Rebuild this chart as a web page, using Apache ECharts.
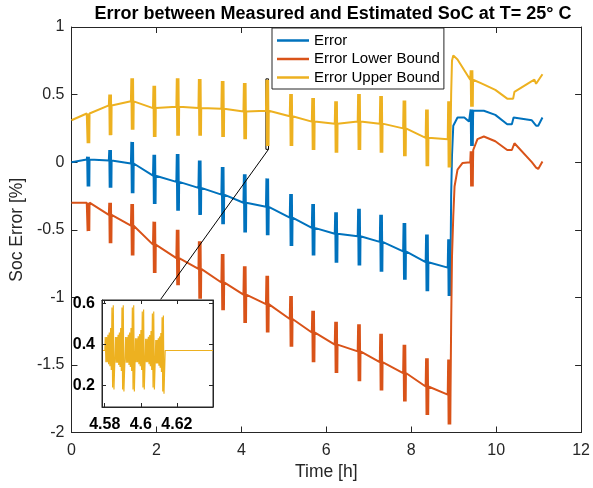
<!DOCTYPE html>
<html>
<head>
<meta charset="utf-8">
<script src="https://cdn.jsdelivr.net/npm/echarts@6/dist/echarts.min.js"></script>
<style>
  html, body { margin: 0; padding: 0; background: #fff; }
  #chart { width: 593px; height: 488px; }
</style>
</head>
<body>
<div id="chart"></div>
<script>
// times (h) of the current-pulse bursts, same for all three traces
const spikeTime = [0.36, 0.88, 1.40, 1.92, 2.47, 2.99, 3.53, 4.05, 4.58, 5.14, 5.66, 6.20, 6.74, 7.26, 7.81, 8.34, 8.86, 9.39];

// Error
const errBase = [0.02, 0.013, -0.01, -0.10, -0.146, -0.19, -0.24, -0.30, -0.33, -0.41, -0.486, -0.53, -0.548, -0.59, -0.66, -0.74, -0.78, 0.31];
const errTop = [0.04, 0.09, 0.15, 0.055, 0.06, 0.013, -0.035, -0.09, -0.12, -0.235, -0.31, -0.37, -0.345, -0.39, -0.45, -0.535, -0.57, 0.39];
const errBottom = [-0.18, -0.19, -0.23, -0.31, -0.36, -0.39, -0.46, -0.52, -0.54, -0.62, -0.69, -0.745, -0.765, -0.81, -0.87, -0.955, -0.99, 0.12];
const errTrack = [[0, 0.0], [8.92, -0.70], [8.94, -0.25], [8.96, 0.05], [8.99, 0.27], [9.09, 0.33], [9.25, 0.33], [9.36, 0.30],
  [9.46, 0.38], [9.71, 0.38], [9.98, 0.35], [10.26, 0.28], [10.37, 0.28], [10.41, 0.33], [10.84, 0.31], [10.94, 0.27], [10.99, 0.27], [11.09, 0.33]];

// Error Lower Bound
const lowBase = [-0.30, -0.39, -0.47, -0.61, -0.71, -0.79, -0.89, -0.98, -1.05, -1.16, -1.26, -1.35, -1.40, -1.48, -1.56, -1.66, -1.72, 0.0];
const lowTop = [-0.30, -0.30, -0.31, -0.44, -0.50, -0.585, -0.68, -0.77, -0.84, -0.99, -1.10, -1.18, -1.20, -1.27, -1.35, -1.45, -1.46, 0.08];
const lowBottom = [-0.51, -0.60, -0.69, -0.82, -0.91, -1.01, -1.095, -1.19, -1.26, -1.365, -1.48, -1.56, -1.62, -1.69, -1.77, -1.87, -1.94, -0.18];
const lowTrack = [[0, -0.30], [8.92, -1.85], [8.94, -1.2], [8.96, -0.7], [8.99, -0.4], [9.02, -0.18], [9.09, -0.055], [9.21, -0.006],
  [9.46, 0.09], [9.56, 0.17], [9.71, 0.19], [9.98, 0.155], [10.26, 0.09], [10.37, 0.09], [10.43, 0.14], [10.84, 0.0], [10.94, -0.04], [10.99, -0.05], [11.09, 0.005]];

// Error Upper Bound
const upBase = [0.36, 0.42, 0.45, 0.40, 0.41, 0.40, 0.395, 0.375, 0.38, 0.34, 0.30, 0.285, 0.30, 0.285, 0.25, 0.18, 0.17, 0.61];
const upTop = [0.36, 0.50, 0.62, 0.565, 0.62, 0.615, 0.60, 0.585, 0.61, 0.505, 0.475, 0.45, 0.505, 0.49, 0.456, 0.39, 0.45, 0.68];
const upBottom = [0.14, 0.20, 0.24, 0.186, 0.196, 0.196, 0.186, 0.17, 0.12, 0.12, 0.09, 0.07, 0.09, 0.07, 0.043, -0.03, -0.04, 0.41];
const upTrack = [[0, 0.31], [8.92, 0.17], [8.94, 0.5], [8.96, 0.75], [8.99, 0.79], [9.09, 0.76], [9.48, 0.62], [9.64, 0.585],
  [9.98, 0.535], [10.26, 0.47], [10.40, 0.47], [10.43, 0.52], [10.84, 0.60], [10.90, 0.61], [10.94, 0.58], [11.09, 0.65]];

// zoomed inset: upper bound around 4.6 h
const insetLevel = 0.37;
const burstStart = [4.5803, 4.5860, 4.5916, 4.5971, 4.6027, 4.6083];
const burstEnd = [4.5855, 4.5910, 4.5968, 4.6023, 4.6079, 4.6132];
const burstTop = [0.59, 0.59, 0.59, 0.57, 0.56, 0.54];
const burstBottom = [0.18, 0.17, 0.17, 0.18, 0.18, 0.16];
const burstSwing = [0.3, 0.3, 0.35, 0.4, 0.5, 0.95, 1.0];
const insetX = [4.5785, 4.640];
const insetY = [0.095, 0.616];
const insetTicksX = [4.58, 4.6, 4.62];
const insetTicksY = [0.2, 0.4, 0.6];
const lineEnd = [2.10, -1.015];

function buildTrace(track, base, top, bottom) {
  const pts = track.slice();
  spikeTime.forEach((t, i) => {
    pts.push([t, base[i]], [t + 0.01, top[i]], [t + 0.02, bottom[i]], [t + 0.03, top[i]],
      [t + 0.04, bottom[i]], [t + 0.05, top[i]], [t + 0.06, bottom[i]], [t + 0.065, base[i]]);
  });
  return pts.sort((a, b) => a[0] - b[0]);
}

function buildInset() {
  const pts = [[insetX[0], insetLevel], [burstStart[0] - 0.0002, insetLevel]];
  burstStart.forEach((s, i) => {
    const step = (burstEnd[i] - s) / (burstSwing.length * 2);
    burstSwing.forEach((k, j) => {
      pts.push([s + step * (2 * j), insetLevel + k * (burstTop[i] - insetLevel)]);
      pts.push([s + step * (2 * j + 1), insetLevel - k * (insetLevel - burstBottom[i])]);
    });
  });
  pts.push([burstEnd[burstEnd.length - 1] + 0.0003, insetLevel], [insetX[1], insetLevel]);
  return pts;
}

const chart = echarts.init(document.getElementById('chart'));
const axisColor = '#262626';
const font = 'Liberation Sans, Arial, sans-serif';
const colors = ['#0072BD', '#D95319', '#EDB120'];

const tickStyle = { inside: true, length: 6, lineStyle: { color: axisColor, width: 1 } };
const lineStyle = { onZero: false, lineStyle: { color: axisColor, width: 1 } };

const option = {
  animation: false,
  backgroundColor: '#fff',
  color: colors,
  title: {
    text: 'Error between Measured and Estimated SoC at T= 25° C',
    left: 328,
    textAlign: 'center',
    top: 0,
    textStyle: { fontFamily: font, fontSize: 18, fontWeight: 'bold', color: '#000' }
  },
  legend: {
    data: ['Error', 'Error Lower Bound', 'Error Upper Bound'],
    orient: 'vertical',
    left: 272,
    top: 28,
    icon: 'rect',
    itemWidth: 32,
    itemHeight: 2.5,
    itemGap: 1.5,
    padding: [4, 4, 3, 5],
    backgroundColor: '#fff',
    borderColor: axisColor,
    borderWidth: 1,
    borderRadius: 0,
    textStyle: { fontFamily: font, fontSize: 15, color: '#000', lineHeight: 17 }
  },
  grid: [
    { left: 69, right: 8, top: 27, bottom: 55.5 },
    { left: 102, top: 300, width: 111, height: 107, show: true, backgroundColor: '#fff',
      borderColor: axisColor, borderWidth: 1, z: 10 }
  ],
  xAxis: [
    { gridIndex: 0, type: 'value', min: 0, max: 12, interval: 2,
      name: 'Time [h]', nameLocation: 'middle', nameGap: 30,
      nameTextStyle: { fontFamily: font, fontSize: 17.5, color: axisColor },
      axisLine: lineStyle, axisTick: tickStyle, splitLine: { show: false },
      axisLabel: { fontFamily: font, fontSize: 16, color: axisColor, margin: 10 } },
    { gridIndex: 0, type: 'value', position: 'top', min: 0, max: 12, interval: 2,
      axisLine: lineStyle, axisTick: tickStyle, splitLine: { show: false }, axisLabel: { show: false } },
    { gridIndex: 1, type: 'value', min: insetX[0], max: insetX[1], z: 12,
      axisLine: lineStyle, splitLine: { show: false },
      axisTick: { inside: true, length: 4, customValues: insetTicksX, lineStyle: { color: axisColor } },
      axisLabel: { customValues: insetTicksX, fontFamily: font, fontSize: 16, fontWeight: 'bold', color: '#000', margin: 10 } },
    { gridIndex: 1, type: 'value', position: 'top', min: insetX[0], max: insetX[1], z: 12,
      axisLine: lineStyle, splitLine: { show: false }, axisLabel: { show: false },
      axisTick: { inside: true, length: 4, customValues: insetTicksX, lineStyle: { color: axisColor } } }
  ],
  yAxis: [
    { gridIndex: 0, type: 'value', min: -2, max: 1, interval: 0.5,
      name: 'Soc Error [%]', nameLocation: 'middle', nameGap: 38,
      nameTextStyle: { fontFamily: font, fontSize: 17.5, color: axisColor },
      axisLine: lineStyle, axisTick: tickStyle, splitLine: { show: false },
      axisLabel: { fontFamily: font, fontSize: 16, color: axisColor, margin: 7 } },
    { gridIndex: 0, type: 'value', position: 'right', min: -2, max: 1, interval: 0.5,
      axisLine: lineStyle, axisTick: tickStyle, splitLine: { show: false }, axisLabel: { show: false } },
    { gridIndex: 1, type: 'value', min: insetY[0], max: insetY[1], z: 12,
      axisLine: lineStyle, splitLine: { show: false },
      axisTick: { inside: true, length: 4, customValues: insetTicksY, lineStyle: { color: axisColor } },
      axisLabel: { customValues: insetTicksY, fontFamily: font, fontSize: 16, fontWeight: 'bold', color: '#000', margin: 7 } },
    { gridIndex: 1, type: 'value', position: 'right', min: insetY[0], max: insetY[1], z: 12,
      axisLine: lineStyle, splitLine: { show: false }, axisLabel: { show: false },
      axisTick: { inside: true, length: 4, customValues: insetTicksY, lineStyle: { color: axisColor } } }
  ],
  series: [
    { name: 'Error', type: 'line', xAxisIndex: 0, yAxisIndex: 0, symbol: 'none',
      lineStyle: { width: 2 }, data: buildTrace(errTrack, errBase, errTop, errBottom) },
    { name: 'Error Lower Bound', type: 'line', xAxisIndex: 0, yAxisIndex: 0, symbol: 'none',
      lineStyle: { width: 2 }, data: buildTrace(lowTrack, lowBase, lowTop, lowBottom) },
    { name: 'Error Upper Bound', type: 'line', xAxisIndex: 0, yAxisIndex: 0, symbol: 'none',
      lineStyle: { width: 2 }, data: buildTrace(upTrack, upBase, upTop, upBottom),
      markArea: {
        silent: true,
        label: { show: false },
        itemStyle: { color: 'rgba(0,0,0,0)', borderColor: '#000', borderWidth: 1 },
        data: [[{ xAxis: insetX[0], yAxis: insetY[1] }, { xAxis: insetX[1], yAxis: insetY[0] }]]
      },
      markLine: {
        silent: true,
        symbol: ['none', 'none'],
        label: { show: false },
        lineStyle: { color: '#000', width: 1, type: 'solid' },
        data: [[{ coord: [insetX[1], insetY[0]] }, { coord: lineEnd }]]
      } },
    { name: 'inset', type: 'line', xAxisIndex: 2, yAxisIndex: 2, symbol: 'none', z: 11,
      color: colors[2], lineStyle: { width: 1.2, color: colors[2] }, data: buildInset() }
  ]
};

chart.setOption(option);
</script>
</body>
</html>
